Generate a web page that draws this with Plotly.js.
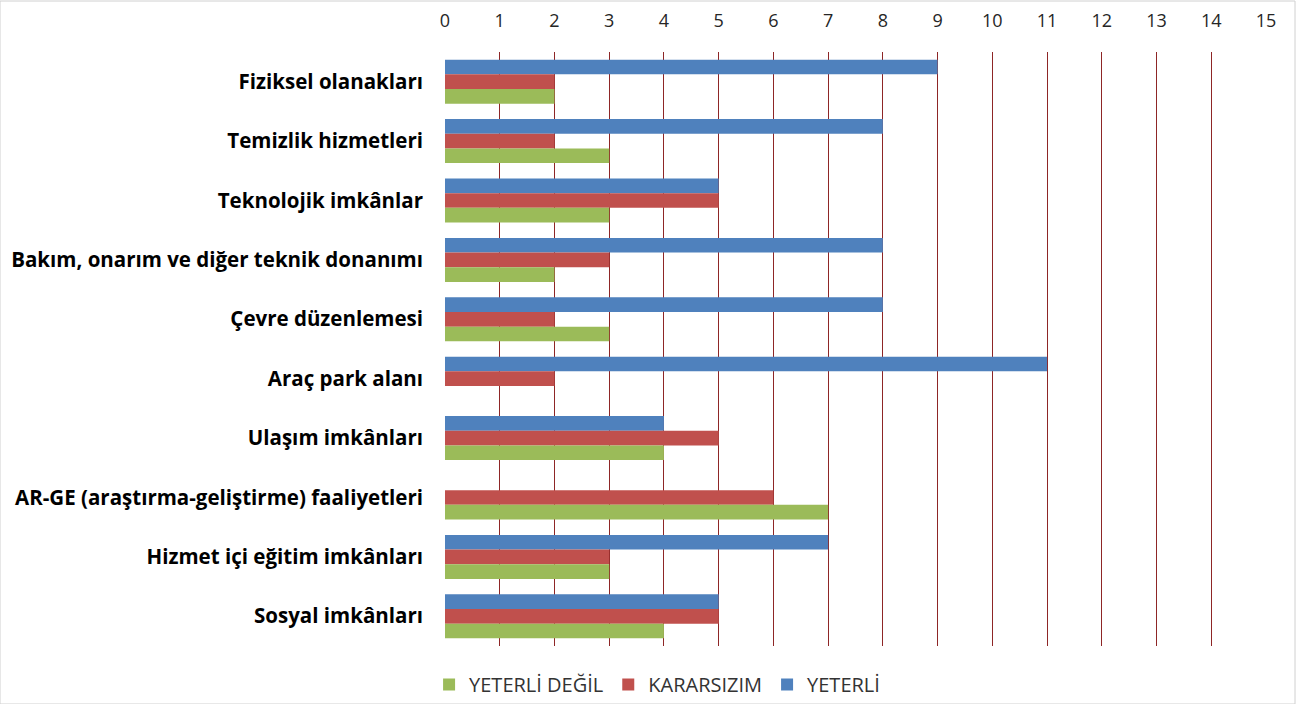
<!DOCTYPE html>
<html><head><meta charset="utf-8">
<script src="https://cdn.plot.ly/plotly-3.0.1.min.js"></script>
<style>html,body{margin:0;padding:0;background:#fff;}#chart{width:1296px;height:704px;}</style>
</head><body><div id="chart"></div>
<script>
const categories = ["Fiziksel olanakları","Temizlik hizmetleri","Teknolojik imkânlar","Bakım, onarım ve diğer teknik donanımı","Çevre düzenlemesi","Araç park alanı","Ulaşım imkânları","AR-GE (araştırma-geliştirme) faaliyetleri","Hizmet içi eğitim imkânları","Sosyal imkânları"];
const yeterli     = [9, 8, 5, 8, 8, 11, 4, 0, 7, 5];
const kararsizim  = [2, 2, 5, 3, 2, 2, 5, 6, 3, 5];
const yeterliDegil= [2, 3, 3, 2, 3, 0, 4, 7, 3, 4];
const tickVals = [0,1,2,3,4,5,6,7,8,9,10,11,12,13,14,15];

const font = "'Open Sans', 'Noto Sans', sans-serif";
function tr(name, x, color){
  return {type:'bar', orientation:'h', name:name, y:categories, x:x,
    marker:{color:color, line:{width:0}}, hoverinfo:'x+y'};
}
const data = [
  tr('YETERLİ', yeterli, '#4F81BD'),
  tr('KARARSIZIM', kararsizim, '#C0504D'),
  tr('YETERLİ DEĞİL', yeterliDegil, '#9BBB59')
];
const layout = {
  width:1296, height:704,
  margin:{l:445, r:30, t:52, b:58},
  paper_bgcolor:'#fff', plot_bgcolor:'#fff',
  barmode:'group', bargap:0.26, bargroupgap:0,
  xaxis:{side:'top', range:[0,15], tickvals:tickVals, ticktext:tickVals.map(String),
    showgrid:true, gridcolor:'#8E2626', gridwidth:1, zeroline:false, showline:false,
    ticks:'', ticklabelstandoff:20, tickfont:{family:font, size:18, color:'#262626'}},
  yaxis:{autorange:'reversed', type:'category', showgrid:false, zeroline:false, showline:false,
    automargin:false,
    ticks:'', ticklabelstandoff:21, tickfont:{family:font, size:20.5, color:'#000', weight:'bold'}},
  legend:{orientation:'h', traceorder:'reversed', xref:'container', yref:'container',
    x:0.507, xanchor:'center', y:0.0, yanchor:'bottom', bgcolor:'rgba(0,0,0,0)',
    font:{family:font, size:20, color:'#333'}, itemwidth:30},
  showlegend:true,
  shapes:[{type:'rect', xref:'paper', yref:'paper', x0:-445/821, x1:1+29/821, y0:-58/594, y1:1+51/594,
    line:{color:'#d0d0d0', width:1}, fillcolor:'rgba(0,0,0,0)', layer:'below'}]
};
Plotly.newPlot('chart', data, layout, {displayModeBar:false});
</script></body></html>
